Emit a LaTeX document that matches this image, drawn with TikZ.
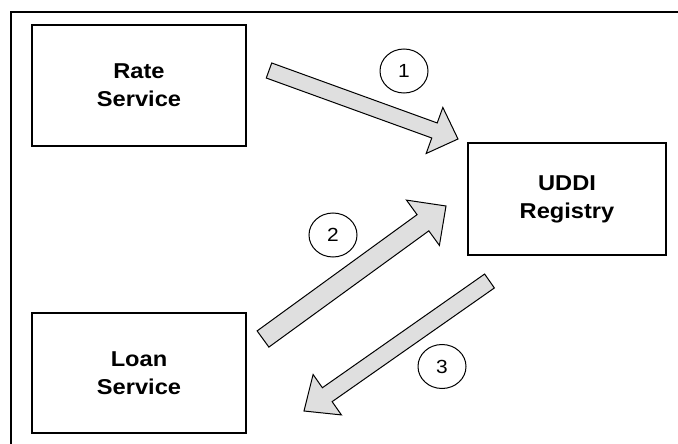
\documentclass[tikz,border=0pt]{standalone}
\usepackage{fontspec}
\setmainfont{Liberation Sans}[FakeStretch=1.1]
\usetikzlibrary{calc,shapes.geometric}
\tikzset{
  box/.style={draw, line width=1.8pt, minimum width=214pt, minimum height=120pt, inner sep=0pt,
    align=center, font=\bfseries\fontsize{21.5}{28}\selectfont},
  numcircle/.style={draw, ellipse, line width=1pt, minimum width=48pt, minimum height=44pt, inner sep=0pt,
    font=\fontsize{19}{22}\selectfont},
  arrowfill/.style={draw=black, fill=gray!25, line width=1pt, line join=miter},
  frameline/.style={line width=2pt}
}
\newcommand\blkarrow[6]{%
  \path (#2) coordinate (#1t) (#3) coordinate (#1p);
  \path ($(#1p)!#6!(#1t)$) coordinate (#1b);
  \filldraw[arrowfill] ($(#1t)!#4!90:(#1p)$) -- ($(#1b)!#4!90:(#1p)$) -- ($(#1b)!#5!90:(#1p)$)
    -- (#1p) -- ($(#1b)!#5!-90:(#1p)$) -- ($(#1b)!#4!-90:(#1p)$) -- ($(#1t)!#4!-90:(#1p)$) -- cycle;
}
\begin{document}
\begin{tikzpicture}[x=1pt,y=-1pt]
\useasboundingbox (0,0) rectangle (678,444);
\fill[white] (0,0) rectangle (678,444);
% frame (top and left edges)
\coordinate (ftl) at (11,12);
\coordinate (ftr) at (679,12);
\coordinate (fbl) at (11,445);
\draw[frameline] (ftr) -- (ftl) -- (fbl);
% boxes
\node[box, minimum width=214pt, minimum height=121pt] (rate) at (139,85.5) {Rate\\Service};
\node[box, minimum width=198pt, minimum height=112pt] (uddi) at (567,199) {UDDI\\Registry};
\node[box, minimum width=214pt, minimum height=120pt] (loan) at (139,373) {Loan\\Service};
% block arrows
\coordinate (a1tail) at (269,70.5);
\coordinate (a1tip) at (458,139);
\coordinate (a2tail) at (263,339);
\coordinate (a2tip) at (446,206);
\coordinate (a3tail) at (489.5,281);
\coordinate (a3tip) at (304,411);
\blkarrow{aa}{a1tail}{a1tip}{8pt}{24.5pt}{25pt}
\blkarrow{ab}{a2tail}{a2tip}{10pt}{28pt}{28.5pt}
\blkarrow{ac}{a3tail}{a3tip}{8.5pt}{24.7pt}{28.4pt}
% numbers
\node[numcircle] (c1) at (404,71) {1};
\node[numcircle] (c2) at (333,235) {2};
\node[numcircle] (c3) at (442,366.5) {3};
\end{tikzpicture}
\end{document}
